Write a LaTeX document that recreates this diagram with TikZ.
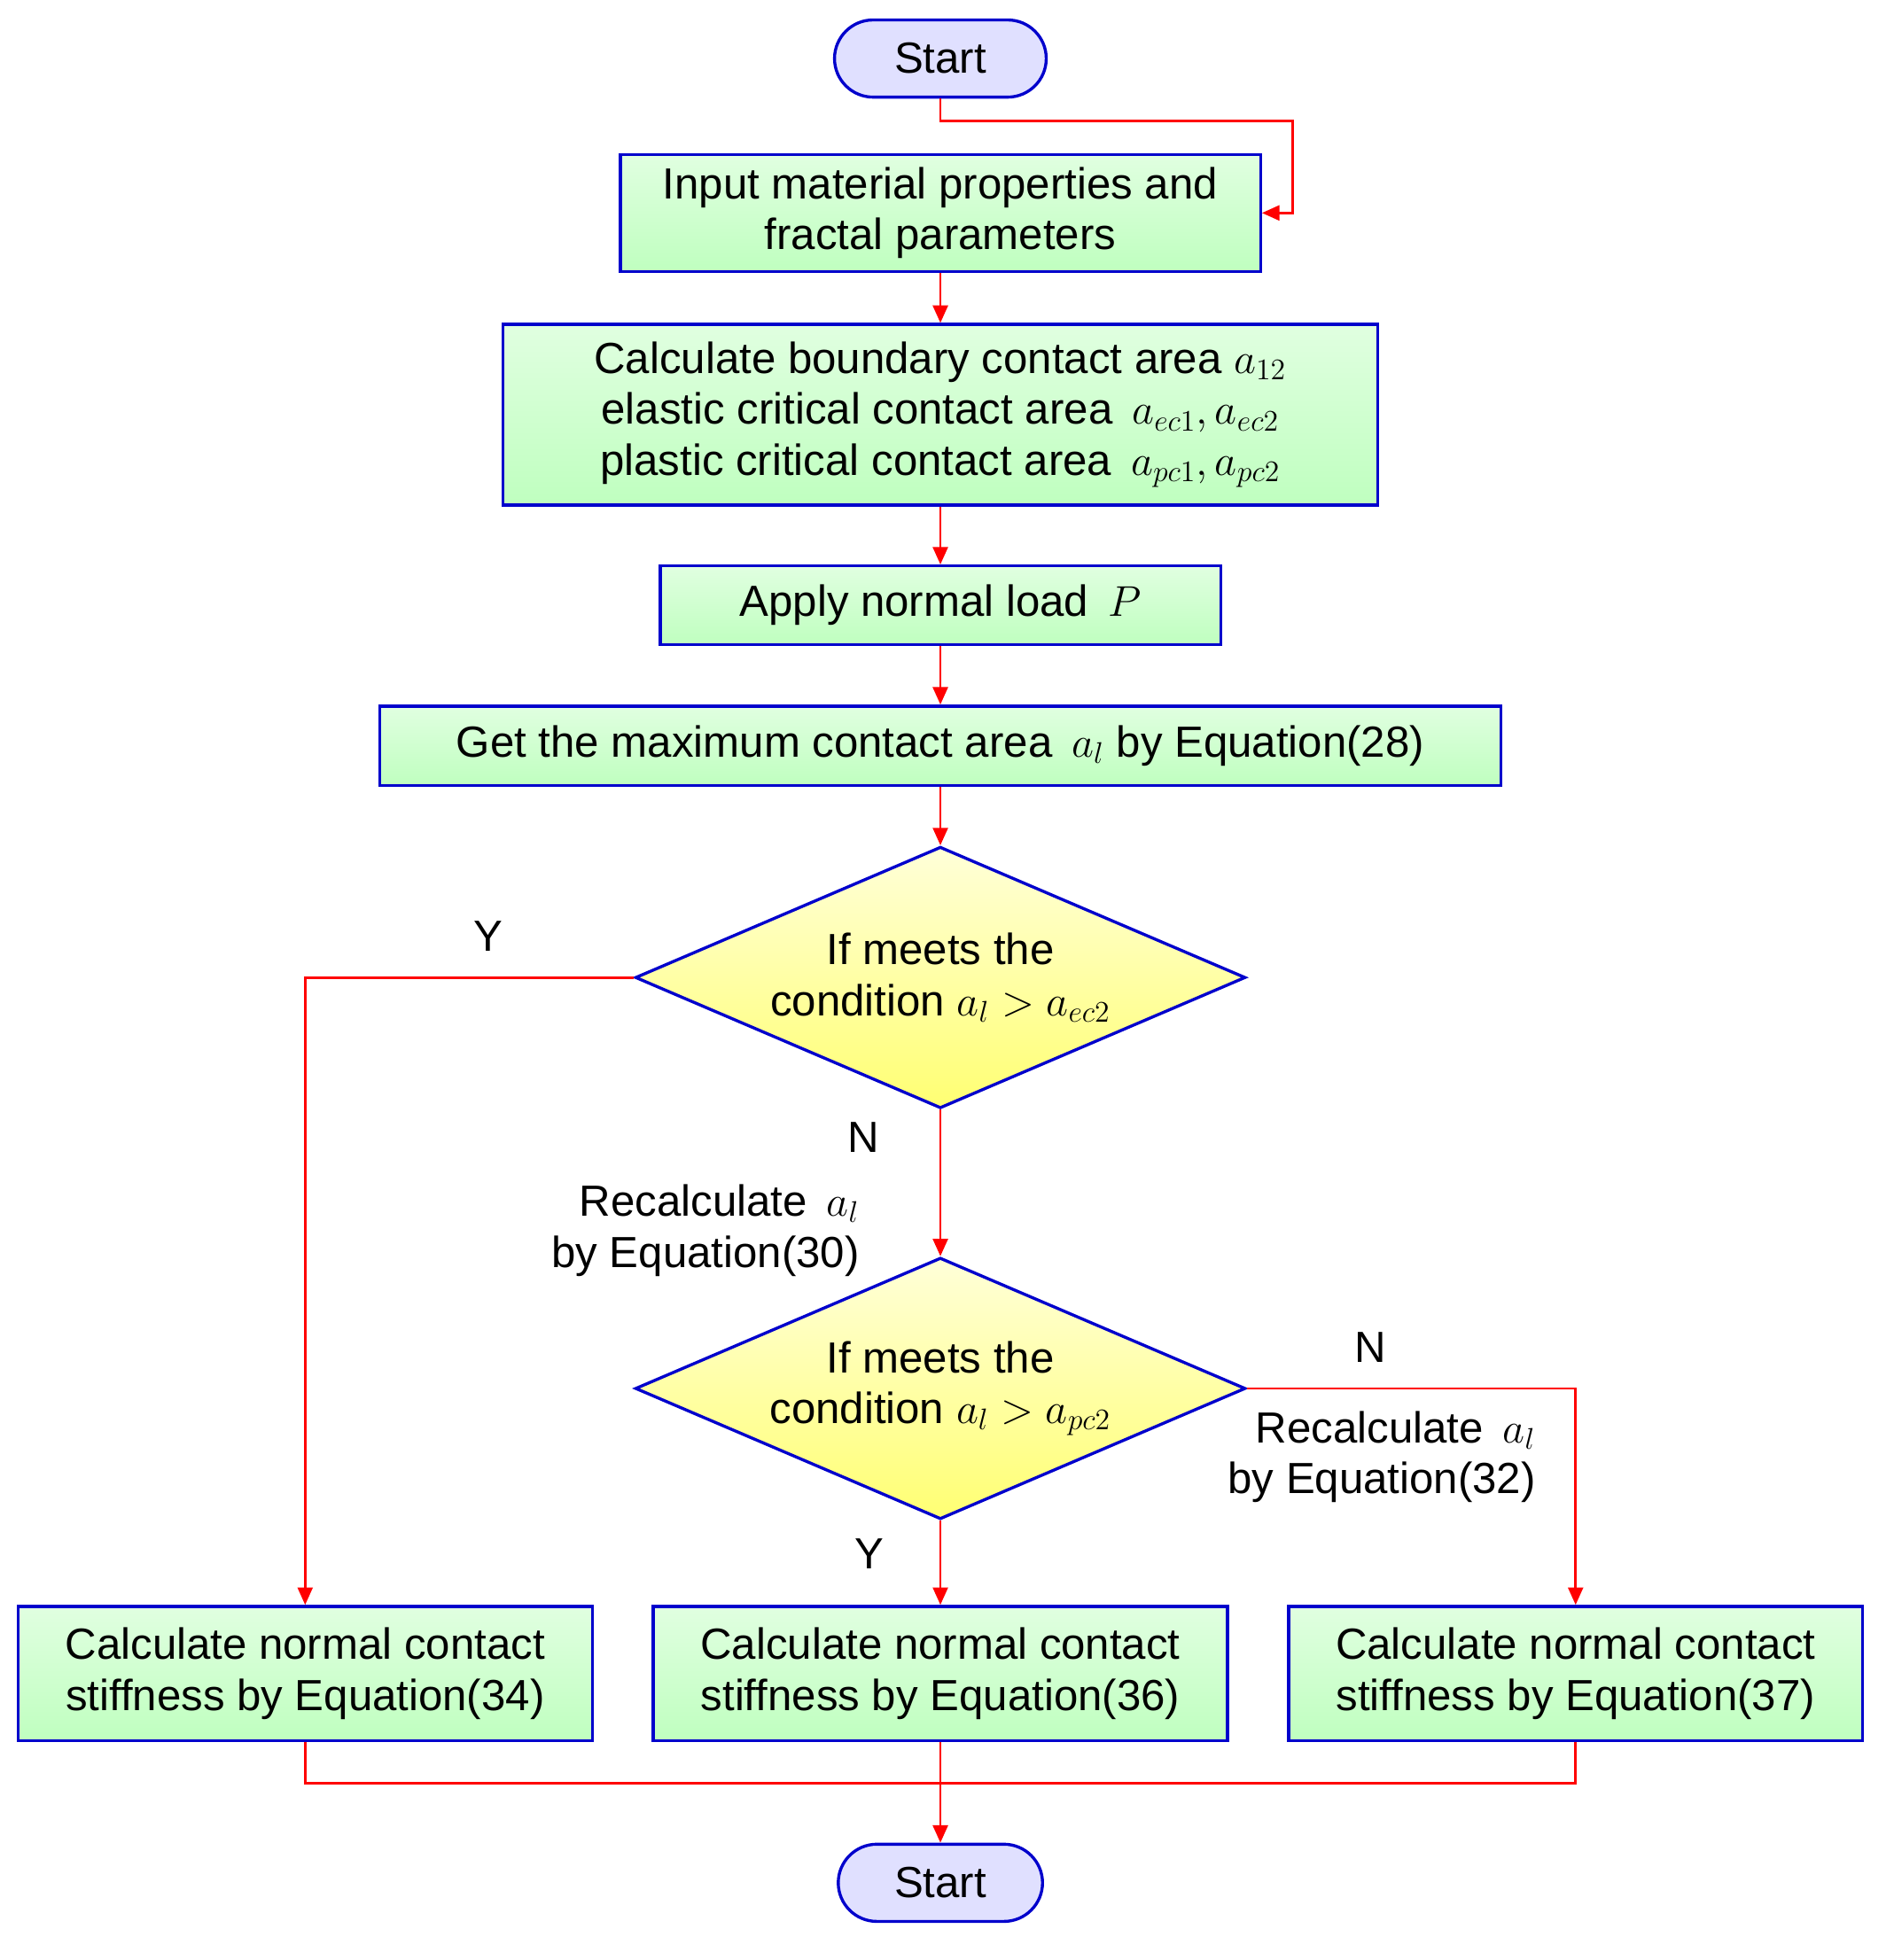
\documentclass[tikz,border=0pt]{standalone}
\usepackage{fontspec}
\setmainfont{Liberation Sans}
\usetikzlibrary{shapes.geometric,arrows.meta}
\begin{document}
\begin{tikzpicture}[x=0.5pt,y=-0.5pt,
 every node/.style={font=\fontsize{17.5}{20.5}\selectfont},
 box/.style={draw=blue!80!black,line width=1.2pt,top color=green!12,bottom color=green!25!white,inner sep=0pt,align=center},
 term/.style={draw=blue!80!black,line width=1.2pt,fill=blue!12,rounded corners=15.5pt,minimum width=85pt,minimum height=31pt,inner sep=0pt},
 dia/.style={draw=blue!80!black,line width=1.2pt,top color=yellow!15,bottom color=yellow!55,diamond,aspect=2.35,minimum width=245pt,minimum height=105pt,inner sep=0pt,align=center},
 ln/.style={draw=red,line width=1pt},
 ar/.style={ln,-{Triangle[length=7pt,width=6pt]}},
 lab/.style={align=right}]
\useasboundingbox (0,0) rectangle (1520,1574);
\node[term] (s) at (755,47) {Start};
\node[box,minimum width=257pt,minimum height=47pt] (in) at (755,171) {Input material properties and\\ fractal parameters};
\node[box,minimum width=351pt,minimum height=72.5pt] (calc) at (755,333) {Calculate boundary contact area $a_{12}$\\ elastic critical contact area\, $a_{ec1},a_{ec2}$\\ plastic critical contact area\, $a_{pc1},a_{pc2}$};
\node[box,minimum width=225pt,minimum height=31.5pt] (ap) at (755,486) {Apply normal load\, $P$};
\node[box,minimum width=450pt,minimum height=32pt] (get) at (755,599) {Get the maximum contact area\, $a_l$ by Equation(28)};
\node[dia] (d1) at (755,785) {If meets the\\ condition $a_l>a_{ec2}$};
\node[dia] (d2) at (755,1115) {If meets the\\ condition $a_l>a_{pc2}$};
\node[box,minimum width=230.5pt,minimum height=54pt] (b1) at (245,1344) {Calculate normal contact\\ stiffness by Equation(34)};
\node[box,minimum width=230.5pt,minimum height=54pt] (b2) at (755,1344) {Calculate normal contact\\ stiffness by Equation(36)};
\node[box,minimum width=230.5pt,minimum height=54pt] (b3) at (1265,1344) {Calculate normal contact\\ stiffness by Equation(37)};
\node[term,minimum width=82pt] (e) at (755,1512) {Start};
\coordinate (c1) at (1038,97);
\coordinate (c2) at (1038,171);
\coordinate (j) at (755,1432);
\draw[ar] (s.south) |- (c1) -- (c2) -- (in.east);
\draw[ar] (in) -- (calc);
\draw[ar] (calc) -- (ap);
\draw[ar] (ap) -- (get);
\draw[ar] (get) -- (d1);
\draw[ar] (d1) -- (d2);
\draw[ar] (d1.west) -| (b1.north);
\draw[ar] (d2.east) -| (b3.north);
\draw[ar] (d2) -- (b2);
\draw[ln] (b1.south) |- (j) -| (b3.south);
\draw[ar] (b2.south) -- (e);
\node (y1) at (392,752) {Y};
\node (n1) at (693,913) {N};
\node[lab,anchor=east] (r1) at (697,988) {Recalculate\, $a_l$\\ by Equation(30)};
\node (n2) at (1100,1082) {N};
\node[lab,anchor=east] (r2) at (1240,1170) {Recalculate\, $a_l$\\ by Equation(32)};
\node (y2) at (698,1248) {Y};
\end{tikzpicture}
\end{document}
